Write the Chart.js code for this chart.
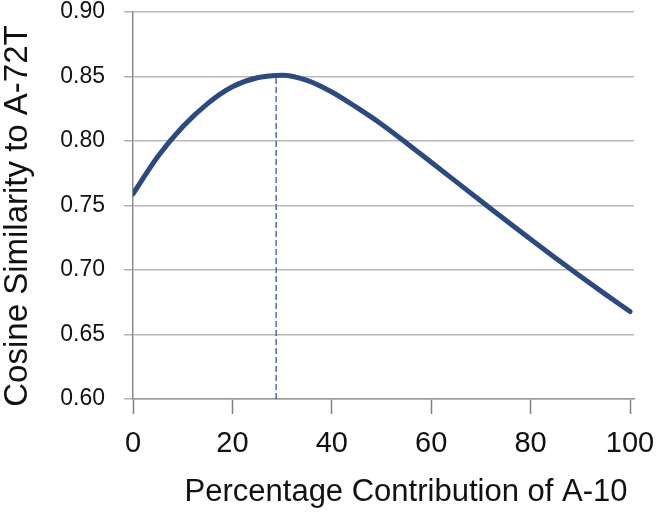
<!DOCTYPE html>
<html>
<head>
<meta charset="utf-8">
<script src="https://cdn.jsdelivr.net/npm/chart.js@4"></script>
<style>
  html, body { margin: 0; padding: 0; background: #ffffff; }
  #wrap { width: 666px; height: 513px; position: relative; }
</style>
</head>
<body>
<div id="wrap"><canvas id="c" width="666" height="513"></canvas></div>
<script>
// ---- data ----
const contributionPct = [0, 5, 10, 15, 20, 25, 30, 35, 40, 45, 50, 55, 60, 65, 70, 75, 80, 85, 90, 95, 100];
const cosineSimilarity = [0.759, 0.788, 0.811, 0.829, 0.842, 0.849, 0.851, 0.847, 0.838, 0.826, 0.813, 0.7985, 0.7835, 0.7685, 0.7535, 0.7385, 0.7238, 0.7093, 0.6952, 0.6813, 0.6678];
const peakLineX = [28.8, 28.8];
const peakLineY = [0.60, 0.851];
const xTickValues = [0, 20, 40, 60, 80, 100];
const yTickValues = [0.60, 0.65, 0.70, 0.75, 0.80, 0.85, 0.90];
const xAxisTitle = 'Percentage Contribution of A-10';
const yAxisTitle = 'Cosine Similarity to A-72T';

const lineColor = '#2c4a7e';
const FONT = '"Liberation Sans", Arial, sans-serif';

const axisTitles = {
  id: 'axisTitles',
  afterDraw(chart) {
    const ctx = chart.ctx;
    const a = chart.chartArea;
    ctx.save();
    ctx.fillStyle = '#111111';
    // x title
    ctx.font = '31px ' + FONT;
    ctx.textAlign = 'center';
    ctx.textBaseline = 'alphabetic';
    ctx.fillText(xAxisTitle, a.left + 273, 501);
    // y title
    ctx.translate(27, a.top + 204);
    ctx.rotate(-Math.PI / 2);
    ctx.font = '33px ' + FONT;
    ctx.textAlign = 'center';
    ctx.fillText(yAxisTitle, 0, 0);
    ctx.restore();
  }
};

new Chart(document.getElementById('c'), {
  type: 'line',
  data: {
    datasets: [
      {
        data: contributionPct.map((x, i) => ({ x: x, y: cosineSimilarity[i] })),
        borderColor: lineColor,
        borderWidth: 5,
        borderCapStyle: 'round',
        pointRadius: 0,
        cubicInterpolationMode: 'monotone',
        fill: false,
        order: 0
      },
      {
        data: peakLineX.map((x, i) => ({ x: x, y: peakLineY[i] })),
        borderColor: '#3b5686',
        borderWidth: 1.3,
        borderDash: [6, 3],
        pointRadius: 0,
        tension: 0,
        fill: false,
        order: 1
      }
    ]
  },
  options: {
    responsive: false,
    animation: false,
    events: [],
    layout: { padding: { top: 12, right: 32, left: 0, bottom: 0 } },
    plugins: { legend: { display: false }, tooltip: { enabled: false } },
    scales: {
      x: {
        type: 'linear',
        min: 0,
        max: 100.8,
        afterBuildTicks(scale) { scale.ticks = xTickValues.map(v => ({ value: v })); },
        afterFit(scale) { scale.height = 114; scale.paddingLeft = 0; scale.paddingRight = 0; },
        grid: {
          drawOnChartArea: false,
          drawTicks: true,
          tickLength: 15,
          tickColor: '#808080',
          tickWidth: 1.5
        },
        border: { display: true, color: '#9a9a9a', width: 1.5 },
        ticks: {
          color: '#111111',
          font: { size: 29, family: FONT },
          padding: 13,
          maxRotation: 0,
          autoSkip: false
        }
      },
      y: {
        type: 'linear',
        min: 0.60,
        max: 0.90,
        afterBuildTicks(scale) { scale.ticks = yTickValues.map(v => ({ value: v })); },
        afterFit(scale) { scale.width = 133; scale.paddingTop = 0; scale.paddingBottom = 0; },
        grid: {
          color: '#b8b8b8',
          lineWidth: 1.5,
          drawTicks: true,
          tickLength: 9,
          tickColor: '#b0b0b0'
        },
        border: { display: true, color: '#8a8a8a', width: 1.5 },
        ticks: {
          color: '#111111',
          font: { size: 23, family: FONT },
          padding: 19,
          callback: v => v.toFixed(2)
        }
      }
    }
  },
  plugins: [axisTitles]
});
</script>
</body>
</html>
